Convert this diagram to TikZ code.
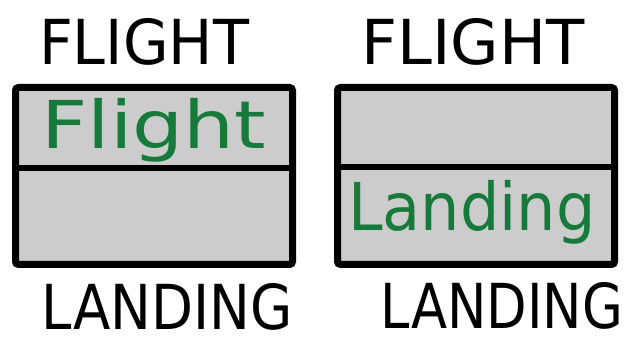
\documentclass[tikz,border=0pt]{standalone}
\usepackage{fontspec}
\setmainfont{DejaVu Sans}
\usepackage{graphicx}
\usetikzlibrary{positioning}

\definecolor{inkgreen}{RGB}{22,122,58}
\definecolor{panelgray}{RGB}{204,204,204}

\begin{document}
\begin{tikzpicture}[
  x=1pt, y=-1pt,
  every node/.style={align=center, inner sep=0pt},
  panel/.style   ={rectangle, rounded corners=3pt, draw=black, line width=7pt,
                   fill=panelgray, minimum width=277pt, minimum height=177pt},
  divider/.style ={draw=black, line width=6pt},
  caption/.style ={font=\fontsize{62}{62}\selectfont, text=black},
  note/.style    ={font=\fontsize{66}{66}\selectfont, text=inkgreen},
]

% --- cadre ---
\useasboundingbox (0,0) rectangle (632,344);

% --- Panneau gauche ---
\node[panel] (boxA) at (154,176) {};
\draw[divider] (boxA.west |- 0,168) -- (boxA.east |- 0,168);
\node[caption] (topA) at (144,42)  {\scalebox{0.95}[1]{FLIGHT}};
\node[caption] (botA) at (167,307) {\scalebox{0.88}[1]{LANDING}};
\node[note]    (inA)  at (154,130) {\scalebox{1.22}[1]{Flight}};

% --- Panneau droit ---
\node[panel] (boxB) at (476,176) {};
\draw[divider] (boxB.west |- 0,167) -- (boxB.east |- 0,167);
\node[caption] (topB) at (473,42)  {\scalebox{1.01}[1]{FLIGHT}};
\node[caption] (botB) at (502,306) {\scalebox{0.85}[1]{LANDING}};
\node[note]    (inB)  at (472,212) {\scalebox{0.94}[1]{Landing}};

\end{tikzpicture}
\end{document}
